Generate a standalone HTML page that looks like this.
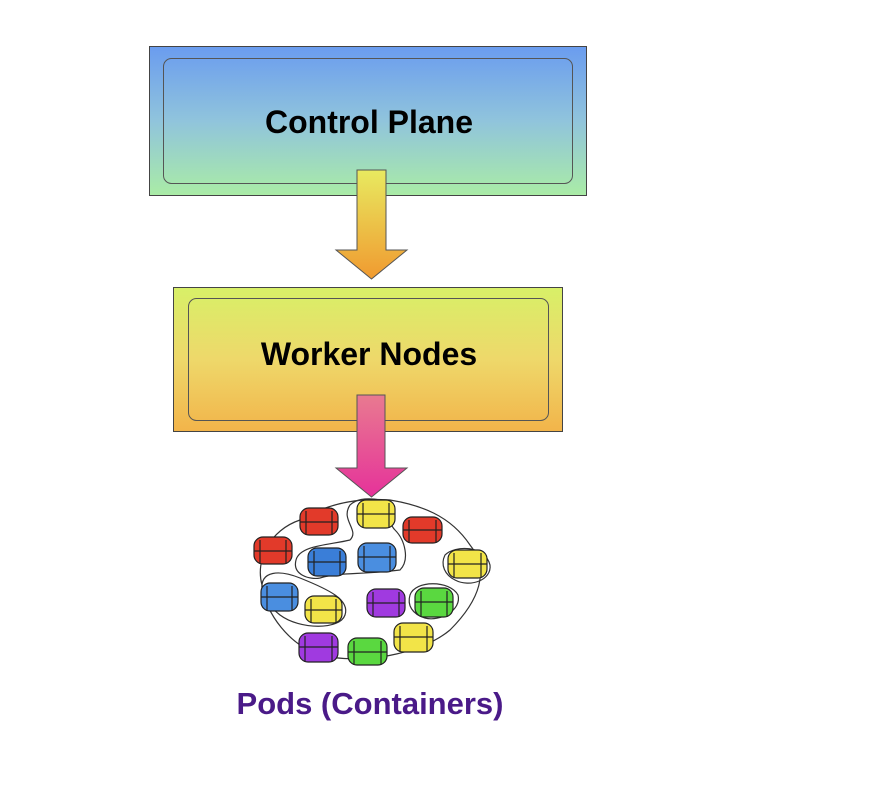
<!DOCTYPE html>
<html><head><meta charset="utf-8"><style>
html,body{margin:0;padding:0;background:#fff;width:876px;height:786px;overflow:hidden}
.t{font-family:"Liberation Sans",sans-serif;font-weight:bold}
</style></head><body>
<svg width="876" height="786" viewBox="0 0 876 786" xmlns="http://www.w3.org/2000/svg">
<defs>
<linearGradient id="g1" x1="0" y1="0" x2="0" y2="1"><stop offset="0" stop-color="#6a9cef"/><stop offset="0.5" stop-color="#90c4dc"/><stop offset="1" stop-color="#aaeca6"/></linearGradient>
<linearGradient id="g2" x1="0" y1="0" x2="0" y2="1"><stop offset="0" stop-color="#d8f068"/><stop offset="0.5" stop-color="#eed86a"/><stop offset="1" stop-color="#f2b44a"/></linearGradient>
<linearGradient id="a1" x1="0" y1="0" x2="0" y2="1"><stop offset="0" stop-color="#e8ea60"/><stop offset="1" stop-color="#f09a30"/></linearGradient>
<linearGradient id="a2" x1="0" y1="0" x2="0" y2="1"><stop offset="0" stop-color="#e87a90"/><stop offset="1" stop-color="#e6329a"/></linearGradient>
</defs>
<rect x="149.5" y="46.5" width="437" height="149" fill="url(#g1)" stroke="#444"/>
<rect x="163.5" y="58.5" width="409" height="125" rx="8" fill="none" stroke="#555"/>
<text class="t" x="369" y="133" font-size="32" text-anchor="middle" fill="#000">Control Plane</text>
<polygon points="357,170 386,170 386,250 407,250 371.5,279 336,250 357,250" fill="url(#a1)" stroke="#555"/>
<rect x="173.5" y="287.5" width="389" height="144" fill="url(#g2)" stroke="#444"/>
<rect x="188.5" y="298.5" width="360" height="122" rx="8" fill="none" stroke="#555"/>
<text class="t" x="369" y="365" font-size="32" text-anchor="middle" fill="#000">Worker Nodes</text>
<polygon points="357,395 385,395 385,468 407,468 371.5,497 336,468 357,468" fill="url(#a2)" stroke="#555"/>
<g fill="none" stroke="#333" stroke-width="1.2">
<path d="M300,520 C270,530 255,560 262,585 C266,615 290,645 320,655 C360,665 420,655 450,630 C480,600 490,570 470,545 C450,515 420,505 390,500 C350,497 320,508 300,520 Z"/>
<path d="M350,505 C340,520 360,530 350,540 C330,545 300,545 296,560 C292,575 310,580 320,578 C340,572 360,575 400,570 C410,560 405,540 395,530 C385,520 395,505 380,500 C365,497 355,500 350,505 Z"/>
<path d="M262,590 C260,570 280,570 300,578 C330,590 350,600 345,615 C340,630 300,630 280,615 C268,605 262,600 262,590 Z"/>
<path d="M445,555 C455,545 485,545 490,565 C492,580 470,588 455,580 C445,575 440,565 445,555 Z"/>
<path d="M410,595 C415,580 450,580 458,595 C462,610 440,622 425,618 C412,614 407,605 410,595 Z"/>
</g>
<g stroke="#222" stroke-width="1.2">
<rect x="300" y="508" width="38" height="27" rx="9" fill="#e23a2a"/><line x1="300" y1="522" x2="338" y2="522"/><line x1="306" y1="511" x2="306" y2="535"/><line x1="332" y1="511" x2="332" y2="535"/>
<rect x="357" y="500" width="38" height="28" rx="9" fill="#f2e448"/><line x1="357" y1="514" x2="395" y2="514"/><line x1="363" y1="503" x2="363" y2="528"/><line x1="389" y1="503" x2="389" y2="528"/>
<rect x="403" y="517" width="39" height="26" rx="9" fill="#e23a2a"/><line x1="403" y1="530" x2="442" y2="530"/><line x1="409" y1="520" x2="409" y2="543"/><line x1="436" y1="520" x2="436" y2="543"/>
<rect x="254" y="537" width="38" height="27" rx="9" fill="#e23a2a"/><line x1="254" y1="551" x2="292" y2="551"/><line x1="260" y1="540" x2="260" y2="564"/><line x1="286" y1="540" x2="286" y2="564"/>
<rect x="308" y="548" width="38" height="28" rx="9" fill="#3a7ed8"/><line x1="308" y1="562" x2="346" y2="562"/><line x1="314" y1="551" x2="314" y2="576"/><line x1="340" y1="551" x2="340" y2="576"/>
<rect x="358" y="543" width="38" height="29" rx="9" fill="#4a8ee0"/><line x1="358" y1="557" x2="396" y2="557"/><line x1="364" y1="546" x2="364" y2="572"/><line x1="390" y1="546" x2="390" y2="572"/>
<rect x="448" y="550" width="39" height="28" rx="9" fill="#f2e448"/><line x1="448" y1="564" x2="487" y2="564"/><line x1="454" y1="553" x2="454" y2="578"/><line x1="481" y1="553" x2="481" y2="578"/>
<rect x="261" y="583" width="37" height="28" rx="9" fill="#4a8ee0"/><line x1="261" y1="597" x2="298" y2="597"/><line x1="267" y1="586" x2="267" y2="611"/><line x1="292" y1="586" x2="292" y2="611"/>
<rect x="305" y="596" width="37" height="27" rx="9" fill="#f2e448"/><line x1="305" y1="610" x2="342" y2="610"/><line x1="311" y1="599" x2="311" y2="623"/><line x1="336" y1="599" x2="336" y2="623"/>
<rect x="367" y="589" width="38" height="28" rx="9" fill="#a03ae0"/><line x1="367" y1="603" x2="405" y2="603"/><line x1="373" y1="592" x2="373" y2="617"/><line x1="399" y1="592" x2="399" y2="617"/>
<rect x="415" y="588" width="38" height="29" rx="9" fill="#5ad840"/><line x1="415" y1="602" x2="453" y2="602"/><line x1="421" y1="591" x2="421" y2="617"/><line x1="447" y1="591" x2="447" y2="617"/>
<rect x="299" y="633" width="39" height="29" rx="9" fill="#a03ae0"/><line x1="299" y1="647" x2="338" y2="647"/><line x1="305" y1="636" x2="305" y2="662"/><line x1="332" y1="636" x2="332" y2="662"/>
<rect x="348" y="638" width="39" height="27" rx="9" fill="#5ad840"/><line x1="348" y1="652" x2="387" y2="652"/><line x1="354" y1="641" x2="354" y2="665"/><line x1="381" y1="641" x2="381" y2="665"/>
<rect x="394" y="623" width="39" height="29" rx="9" fill="#f2e448"/><line x1="394" y1="637" x2="433" y2="637"/><line x1="400" y1="626" x2="400" y2="652"/><line x1="427" y1="626" x2="427" y2="652"/>
</g>
<text class="t" x="370" y="714" font-size="31" text-anchor="middle" fill="#4a1a88">Pods (Containers)</text>
</svg>
</body></html>
